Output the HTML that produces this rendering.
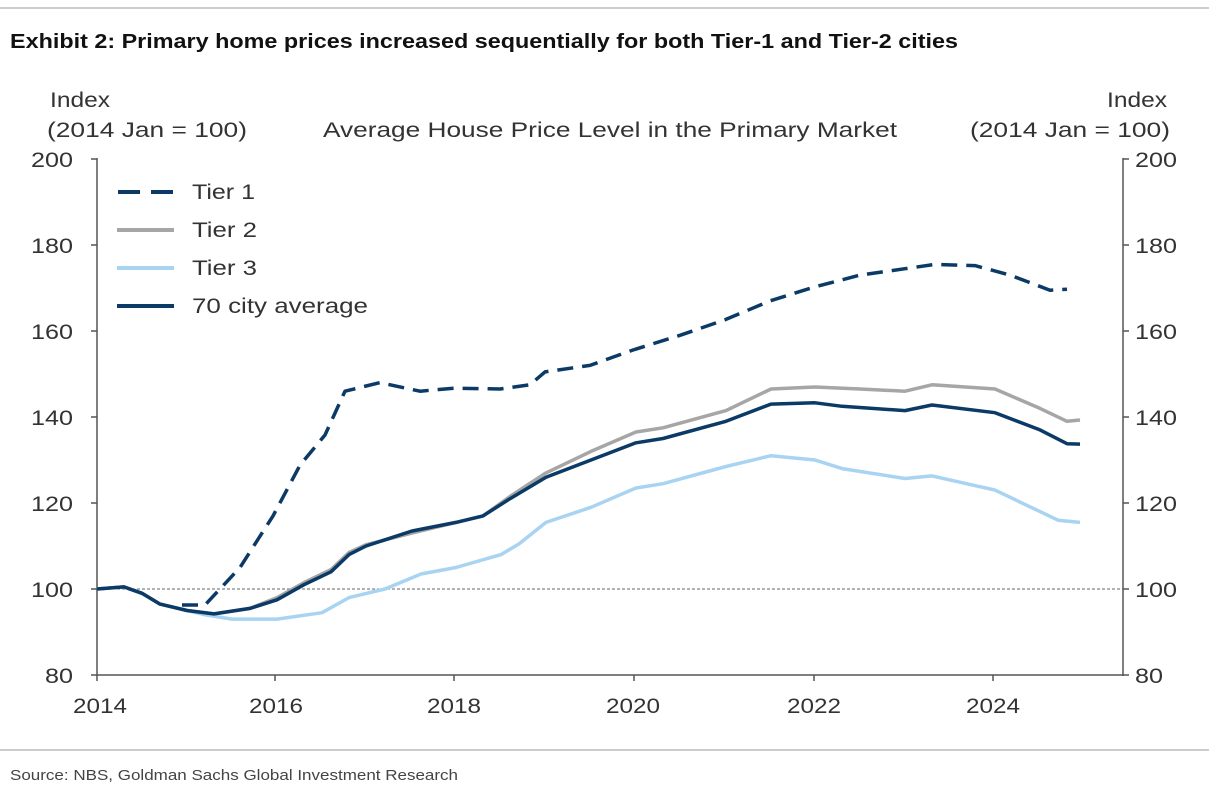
<!DOCTYPE html>
<html><head><meta charset="utf-8"><style>
body{margin:0;background:#fff;width:1209px;height:800px;overflow:hidden;font-family:"Liberation Sans",sans-serif;}
</style></head><body>
<svg width="1209" height="800" xmlns="http://www.w3.org/2000/svg" font-family="Liberation Sans, sans-serif">
<line x1="0" y1="8" x2="1209" y2="8" stroke="#999" stroke-width="1"/>
<text x="10" y="48" font-size="20" font-weight="bold" fill="#111" textLength="948" lengthAdjust="spacingAndGlyphs">Exhibit 2: Primary home prices increased sequentially for both Tier-1 and Tier-2 cities</text>
<g font-size="21" fill="#333" lengthAdjust="spacingAndGlyphs">
<text x="50" y="107" textLength="60" lengthAdjust="spacingAndGlyphs">Index</text>
<text x="47" y="137" textLength="200" lengthAdjust="spacingAndGlyphs">(2014 Jan = 100)</text>
<text x="1107" y="107" textLength="60" lengthAdjust="spacingAndGlyphs">Index</text>
<text x="970" y="137" textLength="200" lengthAdjust="spacingAndGlyphs">(2014 Jan = 100)</text>
<text x="323" y="137" textLength="574" lengthAdjust="spacingAndGlyphs">Average House Price Level in the Primary Market</text>
</g>
<g stroke="#555" stroke-width="1.5" fill="none">
<line x1="97" y1="158" x2="97" y2="676"/>
<line x1="1123" y1="158" x2="1123" y2="676"/>
<line x1="97" y1="675" x2="1123" y2="675"/>
<path d="M91 159h6M91 245h6M91 331h6M91 417h6M91 503h6M91 589h6M91 675h6M1123 159h6M1123 245h6M1123 331h6M1123 417h6M1123 503h6M1123 589h6M1123 675h6M97 675v6M275 675v6M454 675v6M634 675v6M814 675v6M993 675v6"/>
</g>
<line x1="97" y1="589" x2="1123" y2="589" stroke="#666" stroke-width="1" stroke-dasharray="3,2"/>
<g font-size="21" fill="#333">
<text x="31" y="167" textLength="42" lengthAdjust="spacingAndGlyphs">200</text><text x="31" y="253" textLength="42" lengthAdjust="spacingAndGlyphs">180</text><text x="31" y="339" textLength="42" lengthAdjust="spacingAndGlyphs">160</text><text x="31" y="425" textLength="42" lengthAdjust="spacingAndGlyphs">140</text><text x="31" y="511" textLength="42" lengthAdjust="spacingAndGlyphs">120</text><text x="31" y="597" textLength="42" lengthAdjust="spacingAndGlyphs">100</text><text x="45" y="683" textLength="28" lengthAdjust="spacingAndGlyphs">80</text>
<text x="1135" y="167" textLength="42" lengthAdjust="spacingAndGlyphs">200</text><text x="1135" y="253" textLength="42" lengthAdjust="spacingAndGlyphs">180</text><text x="1135" y="339" textLength="42" lengthAdjust="spacingAndGlyphs">160</text><text x="1135" y="425" textLength="42" lengthAdjust="spacingAndGlyphs">140</text><text x="1135" y="511" textLength="42" lengthAdjust="spacingAndGlyphs">120</text><text x="1135" y="597" textLength="42" lengthAdjust="spacingAndGlyphs">100</text><text x="1135" y="683" textLength="28" lengthAdjust="spacingAndGlyphs">80</text>
<text x="73" y="713" textLength="54" lengthAdjust="spacingAndGlyphs">2014</text><text x="249" y="713" textLength="54" lengthAdjust="spacingAndGlyphs">2016</text><text x="427" y="713" textLength="54" lengthAdjust="spacingAndGlyphs">2018</text><text x="606" y="713" textLength="54" lengthAdjust="spacingAndGlyphs">2020</text><text x="787" y="713" textLength="54" lengthAdjust="spacingAndGlyphs">2022</text><text x="966" y="713" textLength="54" lengthAdjust="spacingAndGlyphs">2024</text>
</g>
<g fill="none" stroke-linejoin="round" stroke-linecap="butt">
<polyline stroke="#a8d4f2" stroke-width="3.5" points="97,589 124,586.9 142,593.3 160,604.1 187,610.5 205,614.8 232,619.1 277,619.1 322,612.7 349,597.6 385,589 421,574 456,567.5 501,554.6 519,543.9 546,522.4 591,507.3 636,488 663,483.7 726,466.5 771,455.7 815,460 842,468.6 905,478.5 932,475.9 995,490.1 1040,511.6 1058,520.2 1080,522.4"/>
<polyline stroke="#a6a6a6" stroke-width="3.5" points="97,589 124,586.9 142,593.3 160,604.1 187,610.5 214,613.9 250,608.4 277,597.6 304,582.6 331,569.6 349,552.5 366,544.7 412,533.1 456,522.4 483,515.9 510,496.5 546,472.9 591,451.4 636,432 663,427.8 726,410.6 771,389 815,387 860,389 905,391.2 932,384.8 995,389 1040,408.4 1067,421.3 1080,420"/>
<polyline stroke="#0b3a66" stroke-width="3.5" points="97,589 124,586.9 142,593.3 160,604.1 187,610.5 214,613.9 250,608.4 277,599.8 304,584.7 331,571.8 349,554.6 366,546 412,531 456,522.4 483,515.9 510,498.7 546,477.2 591,460 636,442.8 663,438.5 726,421.3 771,404.1 815,402.8 842,406.3 905,410.6 932,405 995,412.7 1040,429.9 1067,443.7 1080,444.1"/>
<polyline stroke="#0b3a66" stroke-width="3.5" stroke-dasharray="16,9" points="182,605 205,605 240,567.5 273,515.9 300,465.2 325,435 345,391.2 380,382.6 420,391.2 454,388.2 500,389 530,384.8 545,371.9 590,365.4 633,350 680,335.3 725,319.8 770,300.9 814,287.1 860,275.1 905,268.7 935,264.4 975,265.6 1010,275.1 1050,290.2 1067,289.3"/>
</g>
<g stroke-width="4">
<line x1="118" y1="192" x2="174" y2="192" stroke="#0b3a66" stroke-dasharray="22,11"/>
<line x1="117" y1="230" x2="174" y2="230" stroke="#a6a6a6"/>
<line x1="117" y1="268" x2="174" y2="268" stroke="#a8d4f2"/>
<line x1="117" y1="306" x2="174" y2="306" stroke="#0b3a66"/>
</g>
<g font-size="21" fill="#333">
<text x="192" y="199" textLength="63" lengthAdjust="spacingAndGlyphs">Tier 1</text><text x="192" y="237" textLength="65" lengthAdjust="spacingAndGlyphs">Tier 2</text><text x="192" y="275" textLength="65" lengthAdjust="spacingAndGlyphs">Tier 3</text><text x="192" y="313" textLength="176" lengthAdjust="spacingAndGlyphs">70 city average</text>
</g>
<line x1="0" y1="750" x2="1209" y2="750" stroke="#999" stroke-width="1"/>
<text x="10" y="780" font-size="15" fill="#444" textLength="448" lengthAdjust="spacingAndGlyphs">Source: NBS, Goldman Sachs Global Investment Research</text>
</svg>
</body></html>
